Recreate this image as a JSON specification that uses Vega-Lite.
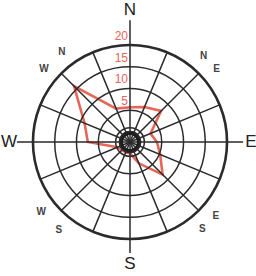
{
  "$schema": "https://vega.github.io/schema/vega-lite/v6.json",
  "width": 252,
  "height": 268,
  "autosize": "none",
  "padding": {"left": 4, "top": 8, "right": 0, "bottom": 0},
  "background": "white",
  "config": {"view": {"stroke": null}},
  "datasets": {
    "wind": [
      {"i": 0, "dir": "N", "deg": 0, "v": 5.7},
      {"i": 1, "dir": "NNE", "deg": 22.5, "v": 6.4},
      {"i": 2, "dir": "NE", "deg": 45, "v": 7.8},
      {"i": 3, "dir": "ENE", "deg": 67.5, "v": 2.8},
      {"i": 4, "dir": "E", "deg": 90, "v": 3.9},
      {"i": 5, "dir": "ESE", "deg": 112.5, "v": 5.2},
      {"i": 6, "dir": "SE", "deg": 135, "v": 8.3},
      {"i": 7, "dir": "SSE", "deg": 157.5, "v": 3},
      {"i": 8, "dir": "S", "deg": 180, "v": 0.3},
      {"i": 9, "dir": "SSW", "deg": 202.5, "v": 0.3},
      {"i": 10, "dir": "SW", "deg": 225, "v": 0.3},
      {"i": 11, "dir": "WSW", "deg": 247.5, "v": 0.8},
      {"i": 12, "dir": "W", "deg": 270, "v": 7.4},
      {"i": 13, "dir": "WNW", "deg": 292.5, "v": 9.0},
      {"i": 14, "dir": "NW", "deg": 315, "v": 15.9},
      {"i": 15, "dir": "NNW", "deg": 337.5, "v": 6.0}
    ],
    "rings": [{"v": 1}, {"v": 5}, {"v": 10}, {"v": 15}, {"v": 20}],
    "spokes": [
      {"deg": 0, "len": 25.7}, {"deg": 22.5, "len": 20}, {"deg": 45, "len": 20}, {"deg": 67.5, "len": 20},
      {"deg": 90, "len": 23.7}, {"deg": 112.5, "len": 20}, {"deg": 135, "len": 20}, {"deg": 157.5, "len": 20},
      {"deg": 180, "len": 23.2}, {"deg": 202.5, "len": 20}, {"deg": 225, "len": 20}, {"deg": 247.5, "len": 20},
      {"deg": 270, "len": 23.7}, {"deg": 292.5, "len": 20}, {"deg": 315, "len": 20}, {"deg": 337.5, "len": 20}
    ],
    "cardinals": [
      {"t": "N", "deg": 0, "r": 28},
      {"t": "E", "deg": 90, "r": 25.5},
      {"t": "S", "deg": 180, "r": 25.8},
      {"t": "W", "deg": 270, "r": 25.5}
    ],
    "diagonals": [
      {"t": "N", "deg": 40.6}, {"t": "E", "deg": 50},
      {"t": "E", "deg": 130.7}, {"t": "S", "deg": 140.3},
      {"t": "S", "deg": 219}, {"t": "W", "deg": 231.7},
      {"t": "W", "deg": 310.4}, {"t": "N", "deg": 323}
    ],
    "ringlabels": [{"v": 5}, {"v": 10}, {"v": 15}, {"v": 20}]
  },
  "layer": [
    {
      "data": {"name": "wind"},
      "transform": [
        {"calculate": "(datum.v + 2.3) * sin(datum.deg * PI / 180)", "as": "px"},
        {"calculate": "(datum.v + 2.3) * cos(datum.deg * PI / 180)", "as": "py"}
      ],
      "mark": {"type": "line", "interpolate": "linear-closed", "stroke": "#e24c3c", "strokeWidth": 2.6, "opacity": 0.85},
      "encoding": {
        "x": {"field": "px", "type": "quantitative", "scale": {"domain": [-28.966, 28.966], "nice": false, "zero": false}, "axis": null},
        "y": {"field": "py", "type": "quantitative", "scale": {"domain": [-30.805, 30.805], "nice": false, "zero": false}, "axis": null},
        "order": {"field": "i"}
      }
    },
    {
      "data": {"name": "rings"},
      "mark": {"type": "arc", "fill": null, "stroke": "#2b2b2b"},
      "encoding": {
        "theta": {"value": 0},
        "theta2": {"value": 6.2832},
        "radius": {"field": "v", "type": "quantitative", "stack": false, "scale": {"type": "linear", "domain": [-2.3, 20], "range": [0, 97], "zero": false}},
        "strokeWidth": {"condition": {"test": "datum.v == 20", "value": 2.6}, "value": 1.5}
      }
    },
    {
      "data": {"name": "spokes"},
      "mark": {"type": "arc", "fill": null, "stroke": "#2b2b2b", "strokeWidth": 1.5},
      "encoding": {
        "theta": {"field": "deg", "type": "quantitative", "stack": false, "scale": {"type": "linear", "domain": [0, 360], "range": [0, 6.283185]}},
        "theta2": {"field": "deg"},
        "radius": {"field": "len", "type": "quantitative", "stack": false, "scale": {"type": "linear", "domain": [-2.3, 20], "range": [0, 97], "zero": false}},
        "radius2": {"value": 0}
      }
    },
    {
      "data": {"values": [{"v": -0.7}]},
      "mark": {"type": "arc", "fill": "#1e1e1e"},
      "encoding": {
        "theta": {"value": 0},
        "theta2": {"value": 6.2832},
        "radius": {"field": "v", "type": "quantitative", "stack": false, "scale": {"type": "linear", "domain": [-2.3, 20], "range": [0, 97], "zero": false}}
      }
    },
    {
      "data": {"name": "cardinals"},
      "mark": {"type": "text", "font": "Liberation Sans", "fontSize": 17, "color": "#222222", "align": "center", "baseline": "middle"},
      "encoding": {
        "theta": {"field": "deg", "type": "quantitative", "stack": false, "scale": {"type": "linear", "domain": [0, 360], "range": [0, 6.283185]}},
        "radius": {"field": "r", "type": "quantitative", "stack": false, "scale": {"type": "linear", "domain": [-2.3, 20], "range": [0, 97], "zero": false}},
        "text": {"field": "t"}
      }
    },
    {
      "data": {"name": "diagonals"},
      "mark": {"type": "text", "font": "Liberation Sans", "fontSize": 10, "fontWeight": "bold", "color": "#444444", "align": "center", "baseline": "middle"},
      "encoding": {
        "theta": {"field": "deg", "type": "quantitative", "stack": false, "scale": {"type": "linear", "domain": [0, 360], "range": [0, 6.283185]}},
        "radius": {"datum": 23.7, "type": "quantitative", "scale": {"type": "linear", "domain": [-2.3, 20], "range": [0, 97], "zero": false}},
        "text": {"field": "t"}
      }
    },
    {
      "data": {"name": "ringlabels"},
      "mark": {"type": "text", "font": "Liberation Sans", "fontSize": 12, "color": "#e8655a", "align": "right", "baseline": "middle", "dx": -2, "dy": -9},
      "encoding": {
        "theta": {"value": 0},
        "radius": {"field": "v", "type": "quantitative", "stack": false, "scale": {"type": "linear", "domain": [-2.3, 20], "range": [0, 97], "zero": false}},
        "text": {"field": "v"}
      }
    }
  ]
}
